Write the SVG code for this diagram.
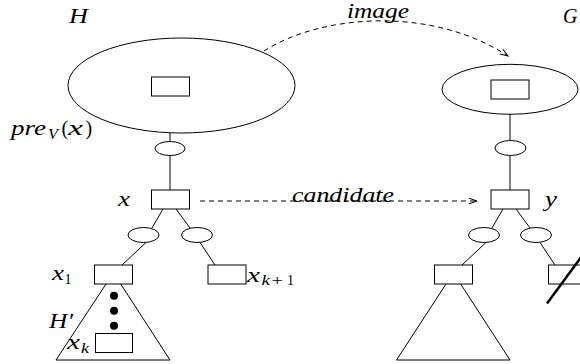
<svg xmlns="http://www.w3.org/2000/svg" width="580" height="364" viewBox="0 0 580 364">
<defs>
<marker id="arr" markerWidth="10" markerHeight="8" refX="9" refY="4" orient="auto" markerUnits="userSpaceOnUse"><path d="M1,1.2 L9,4 L1,6.8" fill="none" stroke="#000" stroke-width="1"/></marker>
</defs>
<style>
.s{fill:#fff;stroke:#000;stroke-width:1}
.l{stroke:#000;stroke-width:1;fill:none}
.d{stroke:#000;stroke-width:1;fill:none;stroke-dasharray:5 4}
.t{font-family:"Liberation Serif","Times New Roman",serif;font-style:italic;font-size:20px;fill:#000}
.n{font-style:normal}
.sub{font-size:14px}
</style>
<rect width="580" height="364" fill="#fff"/>
<g id="connectors">
<line class="l" x1="170" y1="96" x2="170" y2="141.5"/>
<line class="l" x1="170" y1="155.5" x2="170" y2="190"/>
<line class="l" x1="163" y1="209" x2="152" y2="228"/>
<line class="l" x1="176" y1="209" x2="190" y2="228"/>
<line class="l" x1="146" y1="242.5" x2="122" y2="265"/>
<line class="l" x1="200" y1="242.5" x2="215" y2="265"/>
<line class="l" x1="510" y1="99" x2="510" y2="140.5"/>
<line class="l" x1="510" y1="155.5" x2="510" y2="190"/>
<line class="l" x1="503" y1="209" x2="492" y2="228"/>
<line class="l" x1="516" y1="209" x2="530" y2="228"/>
<line class="l" x1="486" y1="242.5" x2="462" y2="265"/>
<line class="l" x1="540" y1="242.5" x2="555" y2="265"/>
<path class="d" d="M264,51 C320,15 430,5 508,56" marker-end="url(#arr)"/>
<line class="d" x1="200" y1="201" x2="477" y2="201" marker-end="url(#arr)"/>
</g>
<g id="H">
<ellipse class="s" cx="181.5" cy="85.5" rx="113.5" ry="47.5" fill="none"/>
<text class="t" x="69" y="23" textLength="19" lengthAdjust="spacingAndGlyphs">H</text>
</g>
<g id="H-root"><rect class="s" x="151.5" y="77" width="38" height="19"/></g>
<g id="preV"><ellipse class="s" cx="170" cy="148.5" rx="15" ry="7"/>
<text class="t" x="11" y="135" textLength="35" lengthAdjust="spacingAndGlyphs">pre</text>
<text class="t sub" x="48" y="139" textLength="10" lengthAdjust="spacingAndGlyphs">V</text>
<text class="t n" x="61.5" y="135">(</text>
<text class="t" x="68" y="135" textLength="15" lengthAdjust="spacingAndGlyphs">x</text>
<text class="t n" x="85.5" y="135">)</text>
</g>
<g id="x"><rect class="s" x="151.5" y="190" width="38" height="19"/>
<text class="t" x="118" y="206" textLength="12" lengthAdjust="spacingAndGlyphs">x</text></g>
<g id="xe1"><ellipse class="s" cx="143.5" cy="235" rx="15.5" ry="7.5"/></g>
<g id="xe2"><ellipse class="s" cx="197" cy="235" rx="15.5" ry="7.5"/></g>
<g id="Hprime">
<polyline class="l" points="106,284 56,360 170,360 120.7,284"/>
<circle cx="114" cy="295.7" r="4" fill="#000"/>
<circle cx="114" cy="310.7" r="4" fill="#000"/>
<circle cx="114" cy="325.7" r="4" fill="#000"/>
<text class="t" x="49" y="327.5" textLength="24" lengthAdjust="spacingAndGlyphs">H′</text>
</g>
<g id="x1"><rect class="s" x="94.5" y="265" width="38" height="19"/>
<text class="t" x="52" y="280" textLength="12" lengthAdjust="spacingAndGlyphs">x</text>
<text class="t n sub" x="64.5" y="283.5">1</text></g>
<g id="xk"><rect class="s" x="95.5" y="333.5" width="37" height="19"/>
<text class="t" x="67" y="349" textLength="13" lengthAdjust="spacingAndGlyphs">x</text>
<text class="t sub" x="81" y="352.5" textLength="8" lengthAdjust="spacingAndGlyphs">k</text></g>
<g id="xk1"><rect class="s" x="208" y="265" width="38" height="19"/>
<text class="t" x="247" y="281.5" textLength="13" lengthAdjust="spacingAndGlyphs">x</text>
<text class="t sub" x="261.5" y="285" textLength="8.5" lengthAdjust="spacingAndGlyphs">k</text>
<text class="t n sub" x="271.5" y="285" textLength="11.5" lengthAdjust="spacingAndGlyphs">+</text>
<text class="t n sub" x="287" y="285">1</text></g>
<g id="G">
<ellipse class="s" cx="510" cy="89.3" rx="68" ry="25" fill="none"/>
<text class="t" x="563" y="23">G</text>
</g>
<g id="G-root"><rect class="s" x="491" y="80" width="38" height="19"/></g>
<g id="ye0"><ellipse class="s" cx="510.5" cy="148" rx="15.5" ry="7.5"/></g>
<g id="y"><rect class="s" x="491" y="190" width="38" height="19"/>
<text class="t" x="545" y="206" textLength="12" lengthAdjust="spacingAndGlyphs">y</text></g>
<g id="ye1"><ellipse class="s" cx="484" cy="235" rx="15.5" ry="7.5"/></g>
<g id="ye2"><ellipse class="s" cx="536" cy="235" rx="15.5" ry="7.5"/></g>
<g id="y1"><rect class="s" x="434.5" y="265" width="38" height="19"/>
<polyline class="l" points="446,284 396.5,360 510,360 460.7,284"/></g>
<g id="y2"><rect class="s" x="548.5" y="265" width="38" height="19"/>
<line x1="547" y1="303.5" x2="582" y2="256" stroke="#000" stroke-width="2.5"/></g>
<g id="labels">
<text class="t" x="347" y="18" textLength="62" lengthAdjust="spacingAndGlyphs">image</text>
<text class="t" x="292" y="201.5" textLength="102" lengthAdjust="spacingAndGlyphs">candidate</text>
</g>
</svg>
